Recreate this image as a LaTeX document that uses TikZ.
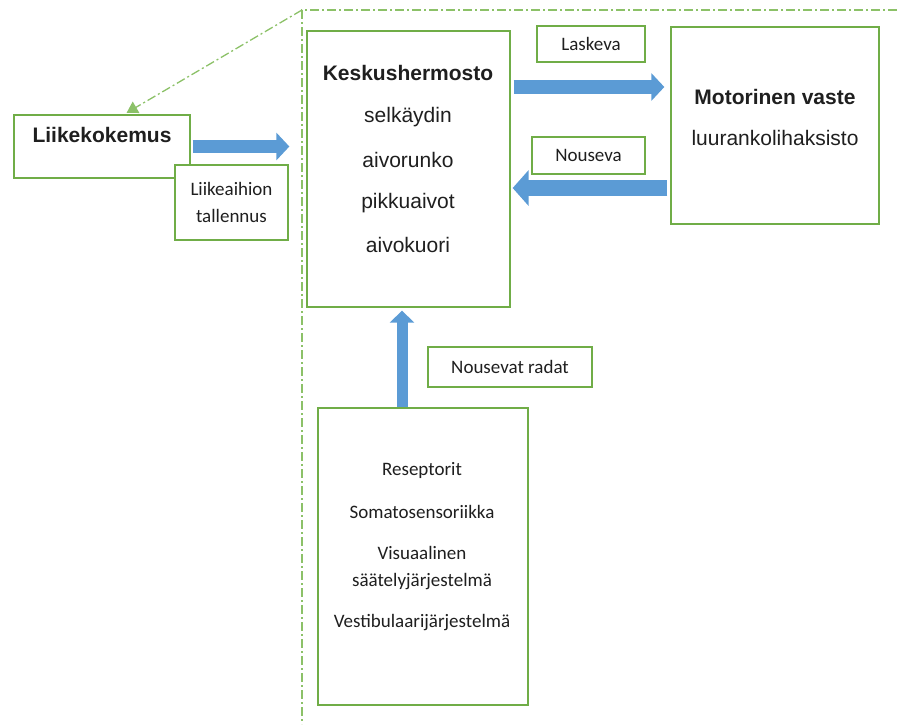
\documentclass[tikz,border=0pt]{standalone}
\usepackage{fontspec}
\setmainfont{Carlito}
\newfontfamily\headfont{Liberation Sans}
\usetikzlibrary{arrows.meta}
\definecolor{Frame}{HTML}{70AD47}
\definecolor{FrameLight}{HTML}{8CC168}
\definecolor{Flow}{HTML}{5B9BD5}
\definecolor{Ink}{HTML}{1F1F1F}

\begin{document}
\begin{tikzpicture}[x=1pt,y=-1pt,
  box/.style={draw=Frame,line width=1.3pt,fill=white,inner sep=0pt},
  head/.style={font=\headfont\bfseries\fontsize{21}{25}\selectfont,text=Ink},
  item/.style={font=\headfont\fontsize{21}{25}\selectfont,text=Ink},
  small/.style={font=\fontsize{19}{27}\selectfont,text=Ink,align=center},
  flow/.style={draw=Flow,line width=13pt,-{Triangle[width=27pt,length=13pt]}},
  frame/.style={draw=FrameLight,line width=1.3pt,dash pattern=on 9pt off 3pt on 2pt off 3pt}
]
\useasboundingbox (0,0) rectangle (897,724);
% boxes
\node[box,minimum width=176pt,minimum height=63pt] (kokemus) at (102,146.5) {};
\node[box,small,minimum width=113pt,minimum height=75pt] (tallennus) at (231.5,202.5) {Liikeaihion\\tallennus};
\node[box,minimum width=203pt,minimum height=276pt] (keskus) at (408.5,169) {};
\node[box,small,minimum width=108pt,minimum height=36pt] (laskeva) at (591,44) {Laskeva};
\node[box,minimum width=208pt,minimum height=197pt] (motor) at (775,125.5) {};
\node[box,small,minimum width=113pt,minimum height=37pt] (nouseva) at (588.5,155.5) {Nouseva};
\node[box,small,minimum width=164pt,minimum height=40pt] (radat) at (510,367) {Nousevat radat};
\node[box,minimum width=210pt,minimum height=297pt] (recep) at (423,556.5) {};
% texts
\node[head] (kokemus-t) at (102,135) {Liikekokemus};
\node[head] (keskus-t) at (408,73) {Keskushermosto};
\foreach \y/\t [count=\i] in {117/selkäydin,160/aivorunko,203/pikkuaivot,245/aivokuori} {
  \node[item] (keskus-\i) at (408,\y) {\t};
}
\node[head] (motor-t) at (775,97) {Motorinen vaste};
\node[item] (motor-1) at (775,138) {luurankolihaksisto};
\foreach \y/\t [count=\i] in {470/Reseptorit,512/Somatosensoriikka,553/Visuaalinen,582/säätelyjärjestelmä,623/Vestibulaarijärjestelmä} {
  \node[small] (recep-\i) at (422,\y) {\t};
}
% flows
\draw[flow,shorten <=2pt,shorten >=17pt] (kokemus.east) -- (keskus.west |- kokemus.east);
\draw[flow,line width=14pt,shorten <=3pt,shorten >=6pt] (keskus.east |- 0,87) -- (motor.west |- 0,87);
\draw[flow,line width=16pt,-{Triangle[width=35pt,length=16pt]},shorten <=3pt,shorten >=2pt] (motor.west |- 0,188) -- (keskus.east |- 0,188);
\draw[flow,line width=11pt,-{Triangle[width=24pt,length=12pt]},shorten >=3pt] (recep.north -| 402,0) -- (keskus.south -| 402,0);
% frame
\coordinate (corner) at (302,10);
\draw[frame] (897,10) -- (corner) -- (302,724);
\draw[frame,-{Triangle[width=13pt,length=11pt]},shorten >=3pt] (corner) -- ([xshift=22pt]kokemus.north);
\end{tikzpicture}
\end{document}
